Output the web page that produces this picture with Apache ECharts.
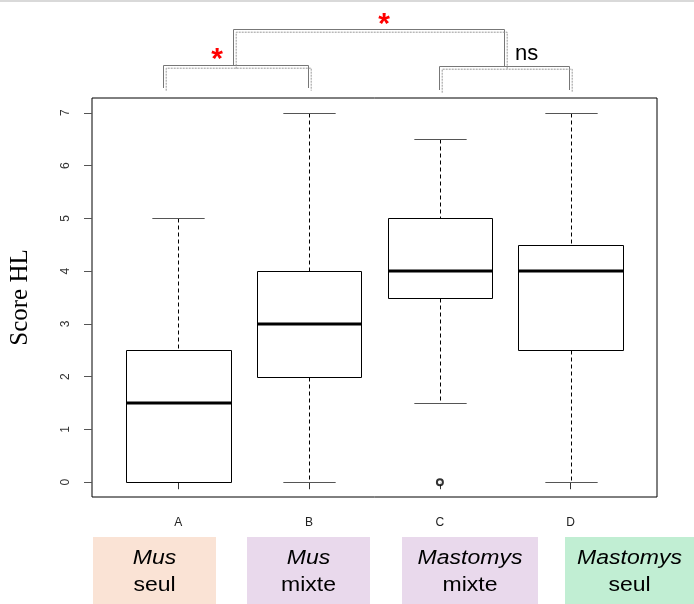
<!DOCTYPE html>
<html>
<head>
<meta charset="utf-8">
<script src="https://cdn.jsdelivr.net/npm/echarts@6/dist/echarts.min.js"></script>
<style>
  html, body { margin: 0; padding: 0; background: #fff; }
  #chart { width: 694px; height: 604px; }
</style>
</head>
<body>
<div id="chart"></div>
<script>
// Groups and their box-plot statistics: [lower whisker, Q1, median, Q3, upper whisker]
const categories = ['A', 'B', 'C', 'D'];
const lowerWhisker = [0, 0, 1.5, 0];
const q1 = [0, 2, 3.5, 2.5];
const median = [1.5, 3, 4, 4];
const q3 = [2.5, 4, 5, 4.5];
const upperWhisker = [5, 7, 6.5, 7];
// Outliers: [group index (1-based), value]
const outliers = [[3, 0]];
const yTicks = [0, 1, 2, 3, 4, 5, 6, 7];

// Group descriptions shown under the axis
const genus = ['Mus', 'Mus', 'Mastomys', 'Mastomys'];
const housing = ['seul', 'mixte', 'mixte', 'seul'];
const groupColors = ['#fae3d5', '#e9d9ec', '#e9d9ec', '#c1eed3'];

// Significance annotations
const sigLabels = ['*', '*', 'ns'];

const boxData = categories.map((c, i) => [i + 1, lowerWhisker[i], q1[i], median[i], q3[i], upperWhisker[i]]);

const chart = echarts.init(document.getElementById('chart'));

function crisp(v) { return Math.round(v) + 0.5; }

function renderBox(params, api) {
  const x = api.value(0);
  const lo = api.coord([x, api.value(1)]);
  const b1 = api.coord([x, api.value(2)]);
  const md = api.coord([x, api.value(3)]);
  const b3 = api.coord([x, api.value(4)]);
  const hi = api.coord([x, api.value(5)]);
  const boxW = api.size([0.8, 0])[0];
  const capW = boxW / 2;
  const cx = crisp(lo[0]);
  const left = Math.round(lo[0] - boxW / 2) + 0.5;
  const right = Math.round(lo[0] + boxW / 2) + 0.5;
  const dash = { stroke: '#000', lineWidth: 1, lineDash: [4, 3] };
  const children = [
    { type: 'line', shape: { x1: cx, y1: crisp(hi[1]), x2: cx, y2: crisp(b3[1]) }, style: dash },
    { type: 'line', shape: { x1: cx, y1: crisp(b1[1]), x2: cx, y2: crisp(lo[1]) }, style: dash },
    { type: 'line', shape: { x1: cx - capW / 2, y1: crisp(hi[1]), x2: cx + capW / 2, y2: crisp(hi[1]) }, style: { stroke: '#555', lineWidth: 1 } },
    { type: 'line', shape: { x1: cx - capW / 2, y1: crisp(lo[1]), x2: cx + capW / 2, y2: crisp(lo[1]) }, style: { stroke: '#555', lineWidth: 1 } },
    { type: 'rect', shape: { x: left, y: crisp(b3[1]), width: right - left, height: crisp(b1[1]) - crisp(b3[1]) }, style: { fill: 'none', stroke: '#000', lineWidth: 1 } },
    { type: 'line', shape: { x1: left, y1: Math.round(md[1]), x2: right, y2: Math.round(md[1]) }, style: { stroke: '#000', lineWidth: 3 } }
  ];
  return { type: 'group', children: children };
}

const option = {
  animation: false,
  backgroundColor: '#fff',
  grid: {
    left: 92, right: 37, top: 98, bottom: 107,
    outerBoundsMode: 'none',
    containLabel: false,
    show: true, borderColor: '#000', borderWidth: 1, backgroundColor: 'transparent'
  },
  xAxis: {
    type: 'value',
    min: 0.34, max: 4.66,
    splitLine: { show: false },
    axisLine: { show: false },
    axisTick: { show: true, length: 7, customValues: [1, 2, 3, 4], lineStyle: { color: '#333' } },
    axisLabel: {
      customValues: [1, 2, 3, 4],
      formatter: v => categories[Math.round(v) - 1],
      fontFamily: 'Liberation Sans, Arial', fontSize: 12, color: '#222', margin: 20
    }
  },
  yAxis: {
    type: 'value',
    min: -0.28, max: 7.28,
    name: 'Score HL',
    nameLocation: 'middle',
    nameGap: 59,
    nameTextStyle: { fontFamily: 'Liberation Serif, Times New Roman', fontSize: 25, color: '#000' },
    splitLine: { show: false },
    axisLine: { show: false },
    axisTick: { show: true, length: 8, customValues: yTicks, lineStyle: { color: '#555' } },
    axisLabel: {
      customValues: yTicks,
      rotate: 90,
      fontFamily: 'Liberation Sans, Arial', fontSize: 12, color: '#333', margin: 20
    }
  },
  series: [
    {
      type: 'custom',
      renderItem: renderBox,
      data: boxData,
      encode: { x: 0, y: [1, 2, 3, 4, 5] },
      silent: true
    },
    {
      type: 'scatter',
      data: outliers,
      symbol: 'emptyCircle',
      symbolSize: 6,
      itemStyle: { color: '#000', borderColor: '#000', borderWidth: 1.5 },
      silent: true
    }
  ]
};

chart.setOption(option);

// Significance brackets above the plot (drawn twice, offset, for the doubled stroke)
function bracket(x1, x2, yTop, yBottomL, yBottomR) {
  const pts = [[x1, yBottomL], [x1, yTop], [x2, yTop], [x2, yBottomR]];
  const off = pts.map(p => [p[0] + 2.7, p[1] + 2.7]);
  return [
    { type: 'polyline', shape: { points: pts }, style: { stroke: '#777', lineWidth: 1, fill: 'none' } },
    { type: 'polyline', shape: { points: off }, style: { stroke: '#999', lineWidth: 1, lineDash: [2, 1], fill: 'none' } }
  ];
}

const graphics = [
  // thin rule across the top
  { type: 'rect', shape: { x: 0, y: 0, width: 694, height: 2 }, style: { fill: '#d9d9d9' } },
  ...bracket(163.5, 308.5, 65.5, 88, 88),
  ...bracket(439.5, 569.5, 66.5, 90, 90),
  ...bracket(233.5, 504.5, 29.5, 66, 67),
  { type: 'text', x: 217, y: 60, style: { text: sigLabels[0], fill: '#ff0000', font: 'bold 30px "Liberation Sans", Arial', align: 'center', verticalAlign: 'middle' } },
  { type: 'text', x: 384, y: 25, style: { text: sigLabels[1], fill: '#ff0000', font: 'bold 30px "Liberation Sans", Arial', align: 'center', verticalAlign: 'middle' } },
  { type: 'text', x: 515, y: 54, style: { text: sigLabels[2], fill: '#000', font: '22px "Liberation Sans", Arial', align: 'left', verticalAlign: 'middle' } }
];

// Group description boxes below the axis
const boxRects = [[93, 123], [247, 123], [402, 136], [565, 129]];
boxRects.forEach((r, i) => {
  graphics.push({ type: 'rect', shape: { x: r[0], y: 537, width: r[1], height: 67 }, style: { fill: groupColors[i] } });
  graphics.push({ type: 'text', x: r[0] + r[1] / 2, y: 559, scaleX: 1.18, style: { text: genus[i], fill: '#000', font: 'italic 19.5px "Liberation Sans", Arial', align: 'center', verticalAlign: 'middle' } });
  graphics.push({ type: 'text', x: r[0] + r[1] / 2, y: 586, scaleX: 1.18, style: { text: housing[i], fill: '#000', font: '19.5px "Liberation Sans", Arial', align: 'center', verticalAlign: 'middle' } });
});

chart.setOption({ graphic: { elements: graphics } });
</script>
</body>
</html>
